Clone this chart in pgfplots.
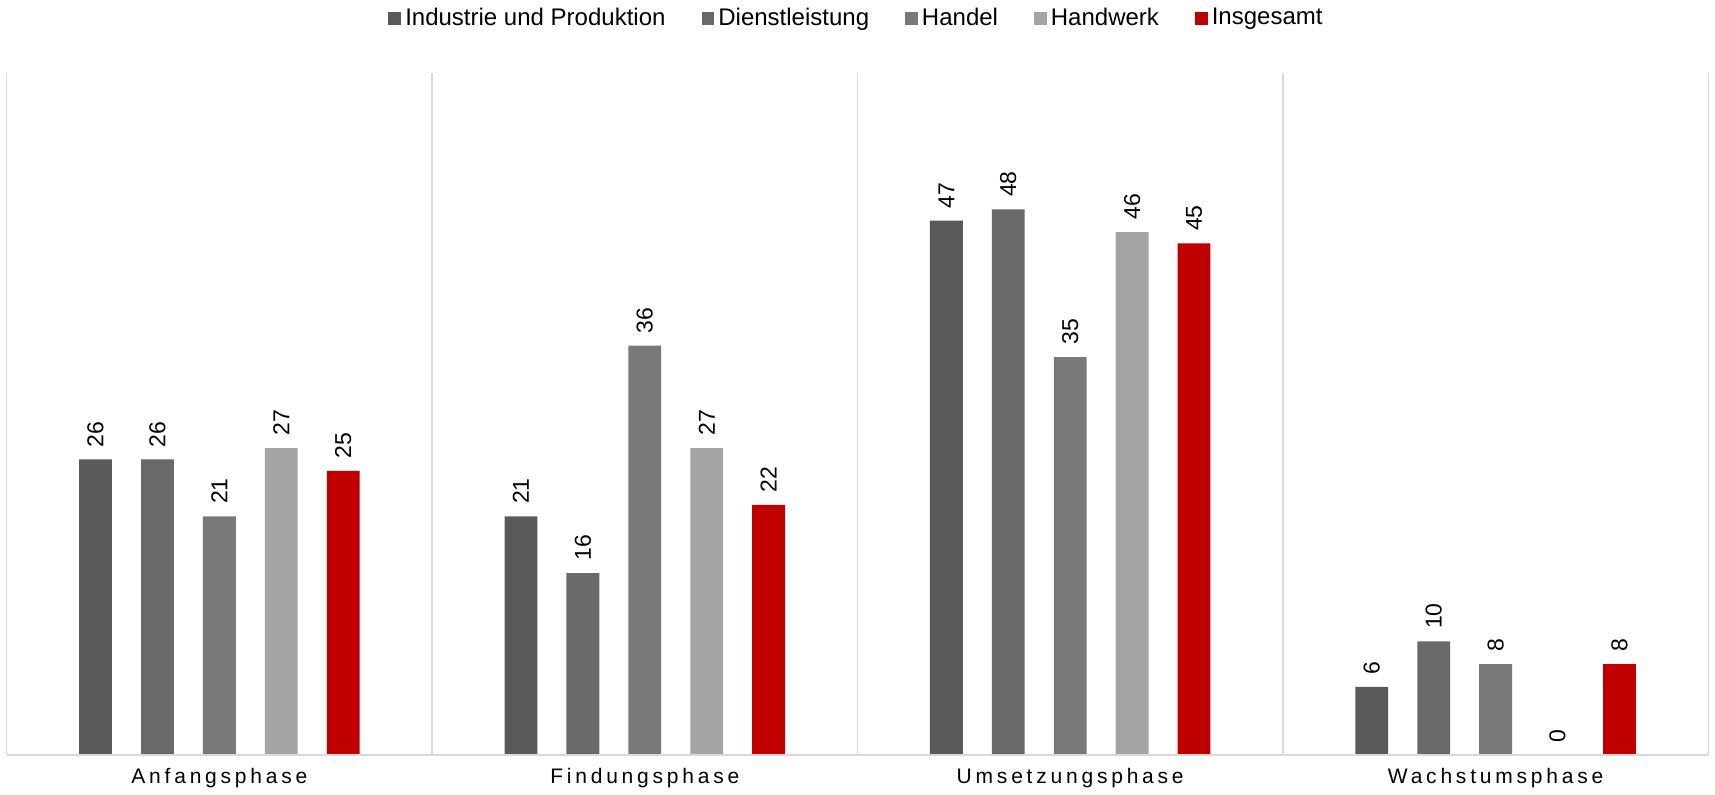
\documentclass[border=0pt]{standalone}
\usepackage{fontspec}
\setmainfont{Liberation Sans}
\usepackage{pgfplots}
\pgfplotsset{compat=1.18}
\definecolor{cA}{HTML}{595959}
\definecolor{cB}{HTML}{696969}
\definecolor{cC}{HTML}{797979}
\definecolor{cD}{HTML}{A5A5A5}
\definecolor{cE}{HTML}{C00000}
\definecolor{gridc}{HTML}{D9D9D9}
\begin{document}
\begin{tikzpicture}
\begin{axis}[
  scale only axis,
  width=850.5pt, height=341pt,
  ymin=0, ymax=60,
  xmin=-0.5, xmax=3.5,
  ybar=14.55pt,
  bar width=16.4pt,
  axis line style={draw=none},
  ytick=\empty,
  xtick={0,1,2,3},
  xticklabels={Anfangsphase,Findungsphase,Umsetzungsphase,Wachstumsphase},
  xticklabel style={font=\fontsize{10.5}{12}\selectfont\addfontfeatures{LetterSpace=18}, yshift=-3pt},
  major tick length=0pt,
  extra x ticks={-0.5,0.5,1.5,2.5,3.5},
  extra x tick labels={},
  extra x tick style={grid=major, major grid style={gridc, line width=0.8pt}},
  clip=false,
  /pgf/number format/assume math mode=true,
  nodes near coords,
  every node near coord/.append style={rotate=90, anchor=west, font=\fontsize{11.5}{13}\selectfont, black, inner xsep=6pt},
  legend style={draw=none, at={(0.5,1.0)}, anchor=south, yshift=18pt, font=\fontsize{12}{14}\selectfont, /tikz/every even column/.append style={column sep=16pt}},
  legend columns=5,
  legend image code/.code={\fill[#1] (0pt,-3.2pt) rectangle (6.4pt,3.2pt);},
  legend cell align=left,
]
\addplot[fill=cA, draw=none] coordinates {(0,26) (1,21) (2,47) (3,6)};
\addplot[fill=cB, draw=none] coordinates {(0,26) (1,16) (2,48) (3,10)};
\addplot[fill=cC, draw=none] coordinates {(0,21) (1,36) (2,35) (3,8)};
\addplot[fill=cD, draw=none] coordinates {(0,27) (1,27) (2,46) (3,0)};
\addplot[fill=cE, draw=none] coordinates {(0,25) (1,22) (2,45) (3,8)};
\legend{Industrie und Produktion, Dienstleistung, Handel, Handwerk, Insgesamt}
\draw[gridc, line width=0.8pt] (axis cs:-0.5,0) -- (axis cs:3.5,0);
\end{axis}
\end{tikzpicture}
\end{document}
